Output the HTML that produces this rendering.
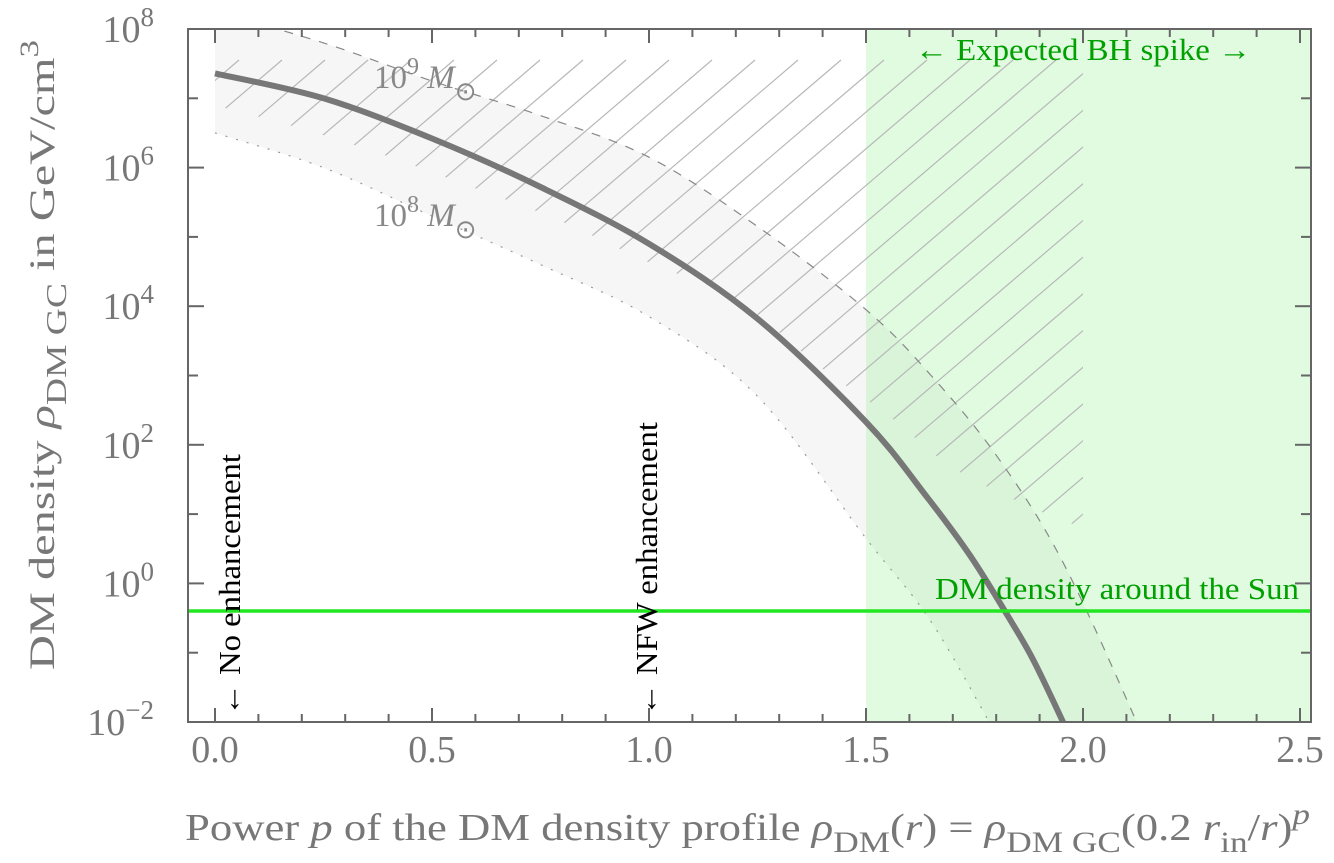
<!DOCTYPE html>
<html><head><meta charset="utf-8"><style>
html,body{margin:0;padding:0;background:#fff;}
svg{display:block;font-family:"Liberation Serif",serif;}
</style></head><body>
<svg id="chart" width="1334" height="863" viewBox="0 0 1334 863" xmlns="http://www.w3.org/2000/svg">
<defs>
<clipPath id="plotClip"><rect x="188" y="29" width="1123" height="693"/></clipPath>
<clipPath id="hatchClip"><path id="hatchClipPath" d=""/></clipPath>
</defs>
<g id="layer"></g>
</svg>
<script>
// ---- data ----
const pGrid = [0, 0.25, 0.5, 0.75, 1.0, 1.25, 1.5, 1.64, 1.74, 1.825, 1.885, 1.954, 2.0];
const mainLog = [7.36, 7.0, 6.42, 5.72, 4.9, 3.82, 2.33, 1.25, 0.4, -0.45, -1.1, -2.0, -2.65];
const upperP = [0, 0.25, 0.5, 0.75, 1.0, 1.25, 1.5, 1.65, 1.8, 1.95, 2.12, 2.2];
const upperLog = [8.25, 7.8, 7.25, 6.75, 6.15, 5.15, 3.95, 3.0, 1.85, 0.35, -1.95, -3.2];
const lowerP = [0, 0.25, 0.5, 0.75, 1.0, 1.25, 1.5, 1.64, 1.76, 1.85];
const lowerLog = [6.5, 6.0, 5.3, 4.6, 3.85, 2.7, 0.65, -0.46, -1.73, -2.8];
const hatchP = [0, 0.2, 0.4, 0.6, 0.8, 1.0, 1.2, 1.4, 1.55, 1.7, 1.88, 2.0];
const hatchLog = [6.9, 6.56, 6.16, 5.7, 5.22, 4.63, 4.1, 3.1, 2.43, 1.67, 1.1, 0.8];
const sunDensity = 0.4;
const spikeStart = 1.5;
const xTicks = [0, 0.5, 1.0, 1.5, 2.0, 2.5];
const xTickLabels = ["0.0", "0.5", "1.0", "1.5", "2.0", "2.5"];
const yTickExp = [8, 6, 4, 2, 0, -2];

// ---- axes ----
const X0 = 215, XS = 434;
const Y8 = 29, YS = 69.3;
const sx = p => X0 + p * XS;
const sy = l => Y8 + (8 - l) * YS;
const NS = "http://www.w3.org/2000/svg";
const layer = document.getElementById('layer');
function mk(tag, attrs, parent) {
  const e = document.createElementNS(NS, tag);
  for (const k in attrs) e.setAttribute(k, attrs[k]);
  (parent || layer).appendChild(e);
  return e;
}
function pathOf(ps, ls, cont) {
  const pts = ps.map((p, i) => [sx(p), sy(ls[i])]);
  let d = (cont ? 'L' : 'M') + pts[0][0].toFixed(1) + ',' + pts[0][1].toFixed(1);
  for (let i = 0; i < pts.length - 1; i++) {
    const p0 = pts[i - 1] || pts[i], p1 = pts[i], p2 = pts[i + 1], p3 = pts[i + 2] || p2;
    const c1 = [p1[0] + (p2[0] - p0[0]) / 6, p1[1] + (p2[1] - p0[1]) / 6];
    const c2 = [p2[0] - (p3[0] - p1[0]) / 6, p2[1] - (p3[1] - p1[1]) / 6];
    d += 'C' + c1.map(v => v.toFixed(1)).join(',') + ' ' + c2.map(v => v.toFixed(1)).join(',') + ' ' + p2.map(v => v.toFixed(1)).join(',');
  }
  return d;
}

const plot = mk('g', {'clip-path': 'url(#plotClip)'});



const spike = mk('rect', {x: sx(spikeStart), y: 29, width: 1311 - sx(spikeStart), height: 693, fill: '#e1fbe1'}, plot);



const bandD = pathOf(upperP, upperLog) + pathOf(lowerP.slice().reverse(), lowerLog.slice().reverse(), true) + 'Z';
const band = mk('path', {d: bandD, fill: '#f6f6f6'}, plot);


const cp2 = mk('clipPath', {id: 'greenClip'}, document.querySelector('defs'));
mk('rect', {x: sx(spikeStart), y: 29, width: 1311 - sx(spikeStart), height: 693}, cp2);
const band2 = mk('path', {d: bandD, fill: '#d9f4d9', 'clip-path': 'url(#greenClip)'}, plot);



const hd = 'M' + sx(0) + ',0 L' + sx(2.0) + ',0 L' + sx(2.0) + ',' + sy(hatchLog[hatchLog.length - 1]) + pathOf(hatchP.slice().reverse(), hatchLog.slice().reverse(), true) + 'Z';
document.getElementById('hatchClipPath').setAttribute('d', hd);
const hatch = mk('g', {'clip-path': 'url(#hatchClip)', stroke: '#b8b8b8', 'stroke-width': 1.2}, plot);


for (let k = -40; k < 40; k++) {
  const x0 = 150 + k * 43;
  mk('line', {x1: x0, y1: 760, x2: x0 + 820, y2: 760 - 700}, hatch);
}

const up = mk('path', {d: pathOf(upperP, upperLog), fill: 'none', stroke: '#888', 'stroke-width': 1.2, 'stroke-dasharray': '9,9'}, plot);


const lo = mk('path', {d: pathOf(lowerP, lowerLog), fill: 'none', stroke: '#999', 'stroke-width': 1.2, 'stroke-dasharray': '2,9'}, plot);



const mainC = mk('path', {d: pathOf(pGrid, mainLog), fill: 'none', stroke: '#777', 'stroke-width': 6}, plot);



const sun = mk('line', {x1: 188, x2: 1311, y1: sy(Math.log10(sunDensity)), y2: sy(Math.log10(sunDensity)), stroke: '#22e622', 'stroke-width': 3.5}, plot);



const frame = mk('rect', {x: 188, y: 29, width: 1123, height: 693, fill: 'none', stroke: '#666', 'stroke-width': 2});


for (let i = 0; i <= 25; i++) {
  const p = i / 10, big = i % 5 === 0, len = big ? 14 : 8;
  mk('line', {x1: sx(p), x2: sx(p), y1: 722, y2: 722 - len, stroke: '#666', 'stroke-width': 2});
  mk('line', {x1: sx(p), x2: sx(p), y1: 29, y2: 29 + len, stroke: '#666', 'stroke-width': 2});
}
for (let e = -2; e <= 8; e++) {
  const big = e % 2 === 0, len = big ? 16 : 10;
  mk('line', {x1: 188, x2: 188 + len, y1: sy(e), y2: sy(e), stroke: '#666', 'stroke-width': 2});
  mk('line', {x1: 1311, x2: 1311 - len, y1: sy(e), y2: sy(e), stroke: '#666', 'stroke-width': 2});
}
xTicks.forEach((p, i) => {
  const t = mk('text', {x: sx(p), y: 762, 'text-anchor': 'middle', 'font-size': 38, fill: '#777'});
  t.textContent = xTickLabels[i];
  
  
});
yTickExp.forEach(e => {
  const t = mk('text', {x: 154, y: sy(e) + 13, 'text-anchor': 'end', 'font-size': 38, fill: '#777'});
  t.textContent = '10';
  const s = mk('tspan', {dy: -16, 'font-size': 27}, t);
  s.textContent = e < 0 ? '\u2212' + (-e) : String(e);
  
  
});
</script>
<svg style="position:absolute;left:0;top:0" width="1334" height="863">
<g font-family="Liberation Serif, serif">
<text x="374" y="88" font-size="33" fill="#888">10<tspan dy="-14" font-size="24">9</tspan><tspan dy="14" font-style="italic"> M</tspan><tspan dy="12" font-size="26">⊙</tspan></text>
<text x="374" y="226" font-size="33" fill="#888">10<tspan dy="-14" font-size="24">8</tspan><tspan dy="14" font-style="italic"> M</tspan><tspan dy="12" font-size="26">⊙</tspan></text>
<text transform="translate(240,716) rotate(-90)" font-size="31" fill="#000" textLength="262" lengthAdjust="spacingAndGlyphs">← No enhancement</text>
<text transform="translate(657,716) rotate(-90)" font-size="31" fill="#000" textLength="294" lengthAdjust="spacingAndGlyphs">← NFW enhancement</text>
<text x="915" y="60" font-size="31" fill="#00a000" textLength="336" lengthAdjust="spacingAndGlyphs">←  Expected BH spike  →</text>
<text x="935" y="599" font-size="31" fill="#00a000" textLength="364" lengthAdjust="spacingAndGlyphs">DM density around the Sun</text>
<text x="185" y="840" font-size="38" fill="#777" textLength="1125" lengthAdjust="spacingAndGlyphs">Power <tspan font-style="italic">p</tspan> of the DM density profile <tspan font-style="italic">ρ</tspan><tspan dy="12" font-size="30">DM</tspan><tspan dy="-12">(</tspan><tspan font-style="italic">r</tspan>) = <tspan font-style="italic">ρ</tspan><tspan dy="12" font-size="30">DM GC</tspan><tspan dy="-12">(0.2 </tspan><tspan font-style="italic">r</tspan><tspan dy="12" font-size="30">in</tspan><tspan dy="-12">/</tspan><tspan font-style="italic">r</tspan>)<tspan dy="-16" font-size="30" font-style="italic">p</tspan></text>
<text transform="translate(54,670) rotate(-90)" font-size="36" fill="#777" textLength="630" lengthAdjust="spacingAndGlyphs">DM density <tspan font-style="italic">ρ</tspan><tspan dy="12" font-size="28">DM GC</tspan><tspan dy="-12"> in GeV/cm</tspan><tspan dy="-16" font-size="26">3</tspan></text>
</g>
</svg>
</body></html>
